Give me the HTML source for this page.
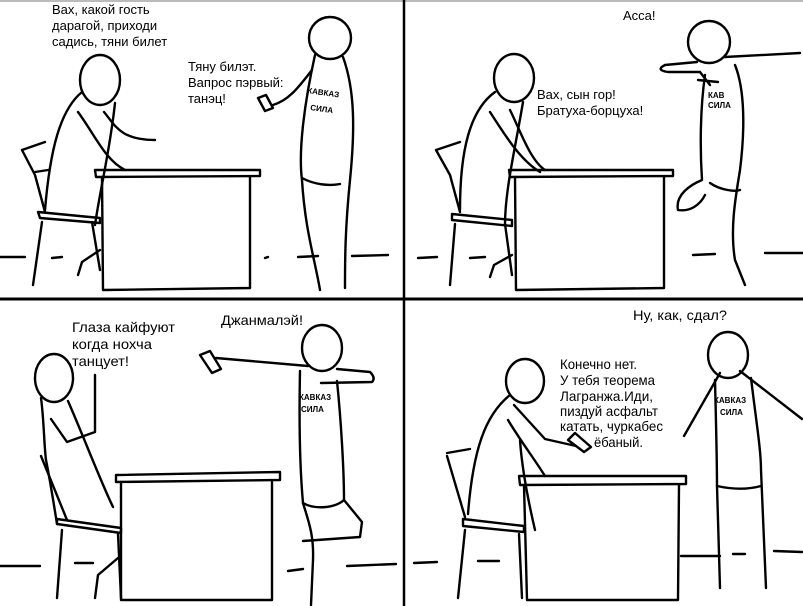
<!DOCTYPE html>
<html><head><meta charset="utf-8"><style>
html,body{margin:0;padding:0;background:#fff;overflow:hidden}
svg{display:block}
text{font-family:"Liberation Sans","DejaVu Sans",sans-serif;font-size:13px;fill:#000}
.c{font-size:14px}
.s{font-size:8px;font-weight:bold}
</style></head><body>
<svg width="803" height="606" viewBox="0 0 803 606" xmlns="http://www.w3.org/2000/svg">
<g fill="none" stroke="#000" stroke-width="2.4" stroke-linecap="round" stroke-linejoin="round">
<line x1="0" y1="1" x2="803" y2="1" stroke="#bbb" stroke-width="2"/>
<line x1="404" y1="0" x2="404" y2="606" stroke-width="2.5"/>
<line x1="0" y1="299" x2="803" y2="299" stroke-width="3"/>

<!-- PANEL 1 -->
<ellipse cx="100" cy="80" rx="20" ry="25"/>
<path d="M82,92 C60,110 50,150 45,210"/>
<path d="M115,103 C110,150 100,190 95,225"/>
<path d="M104,112 C115,125 120,140 155,140"/>
<path d="M78,112 C95,135 105,160 125,170"/>
<path d="M22,150 L45,142 M22,150 L35,175 L45,212 M48,170 L35,172"/>
<path d="M38,212 L100,218 L100,223 L40,218 Z"/>
<path d="M42,222 L33,285 M92,222 L100,270 M100,250 L82,262 L78,275"/>
<path d="M95,170 L260,170 L260,176 L96,177 Z"/>
<path d="M102,177 L103,290 L250,288 L250,177"/>
<path d="M0,257 L25,257 M52,258 L62,257 M265,258 L268,257 M298,257 L318,256 M352,256 L388,255"/>
<circle cx="330" cy="38" r="21"/>
<path d="M315,55 C305,100 298,150 302,180 C305,230 315,260 320,290"/>
<path d="M343,57 C355,90 355,130 350,180 C345,230 345,260 345,288"/>
<path d="M302,178 C315,185 330,186 340,184"/>
<path d="M312,70 C300,85 290,100 273,105"/>
<path d="M258,98 L266,95 L273,108 L265,111 Z"/>

<!-- PANEL 2 -->
<ellipse cx="514" cy="78" rx="20" ry="24"/>
<path d="M495,92 C470,110 460,150 460,210"/>
<path d="M523,102 C515,150 505,190 505,225"/>
<path d="M510,110 C520,130 530,160 545,170"/>
<path d="M490,112 C505,135 520,160 540,172"/>
<path d="M436,150 L460,142 M436,150 L450,175 L460,212"/>
<path d="M452,214 L512,220 L512,226 L452,220 Z"/>
<path d="M455,224 L450,285 M505,224 L512,275 M512,255 L494,265 L490,277"/>
<path d="M509,170 L673,170 L673,176 L510,177 Z"/>
<path d="M515,177 L516,290 L664,288 L664,177"/>
<path d="M418,258 L437,257 M470,258 L485,257 M693,255 L715,254 M765,253 L803,253"/>
<circle cx="709" cy="42" r="21"/>
<path d="M697,62 L665,65 Q655,70 668,72 L700,72 M700,72 L710,85 M698,80 L718,82"/>
<path d="M725,57 L800,53"/>
<path d="M705,75 C700,110 700,150 702,180 C690,185 675,195 678,210 C690,212 700,205 705,195"/>
<path d="M735,65 C745,90 745,130 740,170 C735,200 730,230 735,260 L745,285"/>
<path d="M710,183 C720,190 735,192 740,190"/>

<!-- PANEL 3 -->
<ellipse cx="54" cy="378" rx="19" ry="24"/>
<path d="M41,398 C44,420 44,445 46,460 C50,480 54,505 57,524"/>
<path d="M68,401 C85,440 100,480 113,507"/>
<path d="M95,375 L95,432 L67,442 L51,419"/>
<path d="M41,456 L67,520"/>
<path d="M57,519 L121,528 L121,533 L57,524 Z"/>
<path d="M62,530 L57,598 M118,534 L121,598 M118,558 L98,575 L95,598"/>
<path d="M116,475 L280,472 L280,480 L116,482 Z"/>
<path d="M121,482 L121,600 L272,600 L272,482"/>
<path d="M0,566 L40,566 M75,563 L93,563 M288,571 L303,569 M347,566 L396,564"/>
<ellipse cx="322" cy="348" rx="20" ry="23"/>
<path d="M308,366 L216,358"/>
<path d="M200,355 L210,351 L221,369 L212,373 Z"/>
<path d="M337,369 L370,372 Q376,378 372,382 L321,383"/>
<path d="M300,371 C299,420 300,470 303,503 C308,520 314,534 313,560 L311,605"/>
<path d="M337,381 C341,420 344,470 344,500"/>
<path d="M303,503 C315,510 335,508 344,500 L362,522 L360,537 L303,541"/>

<!-- PANEL 4 -->
<path d="M414,563 L437,562 M478,561 L499,561 M681,556 L720,556 M733,554 L745,554 M774,551 L802,552"/>
<ellipse cx="525" cy="381" rx="19" ry="22"/>
<path d="M510,395 C485,415 473,450 468,514"/>
<path d="M508,420 C520,440 535,460 545,476"/>
<path d="M514,405 L545,439 L576,446"/>
<path d="M520,440 C522,470 528,500 535,530"/>
<path d="M568,440 L575,433 L591,447 L584,452 Z"/>
<path d="M447,453 L470,449 M447,456 L465,517"/>
<path d="M463,519 L524,526 L524,532 L463,526 Z"/>
<path d="M465,530 L458,598 M519,534 L522,598"/>
<path d="M519,476 L686,476 L686,484 L520,485 Z"/>
<path d="M524,485 L527,600 L678,600 L679,485"/>
<ellipse cx="728" cy="355" rx="20" ry="23"/>
<path d="M720,373 L684,436"/>
<path d="M740,371 L802,419"/>
<path d="M715,380 C716,420 717,460 717,486 L720,588"/>
<path d="M751,378 C756,420 761,450 761,470 L766,588"/>
<path d="M717,486 C735,490 750,489 761,486"/>
</g>

<!-- text -->
<text x="52" y="14">Вах, какой гость</text>
<text x="52" y="30">дарагой, приходи</text>
<text x="52" y="46">садись, тяни билет</text>
<text x="188" y="71">Тяну билэт.</text>
<text x="188" y="87">Вапрос пэрвый:</text>
<text x="188" y="103">танэц!</text>
<text class="s" x="307" y="93" transform="rotate(8 307 93)">КАВКАЗ</text>
<text class="s" x="310" y="110" transform="rotate(8 310 110)">СИЛА</text>

<text x="623" y="20">Асса!</text>
<text x="537" y="99">Вах, сын гор!</text>
<text x="537" y="115">Братуха-борцуха!</text>
<text class="s" x="708" y="98">КАВ</text>
<text class="s" x="708" y="108">СИЛА</text>

<text class="c" x="72" y="332" textLength="103" lengthAdjust="spacingAndGlyphs">Глаза кайфуют</text>
<text class="c" x="72" y="349" textLength="80" lengthAdjust="spacingAndGlyphs">когда нохча</text>
<text class="c" x="72" y="366" textLength="57" lengthAdjust="spacingAndGlyphs">танцует!</text>
<text class="c" x="221" y="325" textLength="82" lengthAdjust="spacingAndGlyphs">Джанмалэй!</text>
<text class="s" x="299" y="400">КАВКАЗ</text>
<text class="s" x="301" y="412">СИЛА</text>

<text class="c" x="633" y="320" textLength="94" lengthAdjust="spacingAndGlyphs">Ну, как, сдал?</text>
<text class="c" x="560" y="369" textLength="77" lengthAdjust="spacingAndGlyphs">Конечно нет.</text>
<text class="c" x="560" y="385" textLength="95" lengthAdjust="spacingAndGlyphs">У тебя теорема</text>
<text class="c" x="560" y="401" textLength="93" lengthAdjust="spacingAndGlyphs">Лагранжа.Иди,</text>
<text class="c" x="560" y="416" textLength="98" lengthAdjust="spacingAndGlyphs">пиздуй асфальт</text>
<text class="c" x="560" y="431" textLength="103" lengthAdjust="spacingAndGlyphs">катать, чуркабес</text>
<text class="c" x="594" y="447" textLength="49" lengthAdjust="spacingAndGlyphs">ёбаный.</text>
<text class="s" x="714" y="403">КАВКАЗ</text>
<text class="s" x="720" y="415">СИЛА</text>
</svg>
</body></html>
